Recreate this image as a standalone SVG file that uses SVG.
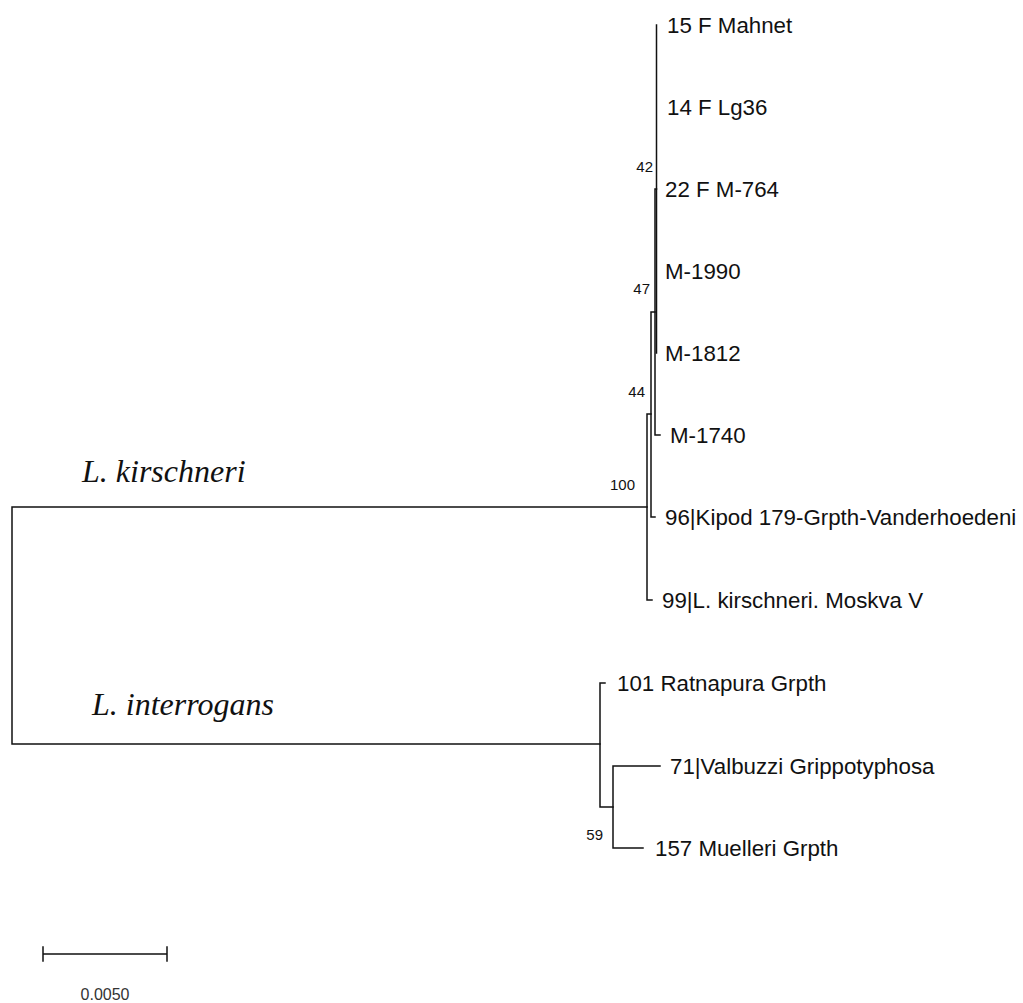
<svg xmlns="http://www.w3.org/2000/svg" width="1023" height="1003" viewBox="0 0 1023 1003">
<style>
.br{fill:none;stroke:#111;stroke-width:1.5;stroke-linecap:square}
.leaf{font-family:"Liberation Sans",Arial,sans-serif;font-size:22.3px;fill:#111}
.bs{font-family:"Liberation Sans",Arial,sans-serif;font-size:15px;fill:#111;text-anchor:end}
.clade{font-family:"Liberation Serif","Times New Roman",serif;font-style:italic;font-size:32px;fill:#111}
.scale{font-family:"Liberation Sans",Arial,sans-serif;font-size:16px;fill:#333;text-anchor:middle}
</style>
<rect width="1023" height="1003" fill="#fff"/>
<g id="connectors">
  <path class="br" d="M647 507 H12 V744 H600"/>
  <path class="br" d="M651 414 H647 V600 H652"/>
  <path class="br" d="M655 312 H651 V517 H655"/>
  <path class="br" d="M656.5 189 H655 V435 H660"/>
  <path class="br" d="M656.5 25 V353"/>
  <path class="br" d="M605 683 H600 V807 H613"/>
  <path class="br" d="M660 766 H613 V848 H643"/>
</g>
<g id="leaf-15"><text class="leaf" x="667" y="33">15 F Mahnet</text></g>
<g id="leaf-14"><text class="leaf" x="667" y="115">14 F Lg36</text></g>
<g id="leaf-22"><text class="leaf" x="665" y="197">22 F M-764</text></g>
<g id="leaf-M1990"><text class="leaf" x="665" y="279">M-1990</text></g>
<g id="leaf-M1812"><text class="leaf" x="665" y="361">M-1812</text></g>
<g id="leaf-M1740"><text class="leaf" x="670" y="443">M-1740</text></g>
<g id="leaf-96"><text class="leaf" x="665" y="525">96|Kipod 179-Grpth-Vanderhoedeni</text></g>
<g id="leaf-99"><text class="leaf" x="662" y="608">99|L. kirschneri. Moskva V</text></g>
<g id="leaf-101"><text class="leaf" x="617" y="691">101 Ratnapura Grpth</text></g>
<g id="leaf-71"><text class="leaf" x="670" y="774">71|Valbuzzi Grippotyphosa</text></g>
<g id="leaf-157"><text class="leaf" x="655" y="856">157 Muelleri Grpth</text></g>
<g id="node-42"><text class="bs" x="653" y="172">42</text></g>
<g id="node-47"><text class="bs" x="650" y="294">47</text></g>
<g id="node-44"><text class="bs" x="645" y="397">44</text></g>
<g id="node-100"><text class="bs" x="635" y="490">100</text></g>
<g id="node-59"><text class="bs" x="603" y="840">59</text></g>
<g id="clade-kirschneri"><text class="clade" x="82" y="482">L. kirschneri</text></g>
<g id="clade-interrogans"><text class="clade" x="92" y="715">L. interrogans</text></g>
<g id="scale-bar">
  <path class="br" d="M43 954 H167 M43 947 V961 M167 947 V961"/>
  <text class="scale" x="105" y="1000">0.0050</text>
</g>
</svg>
